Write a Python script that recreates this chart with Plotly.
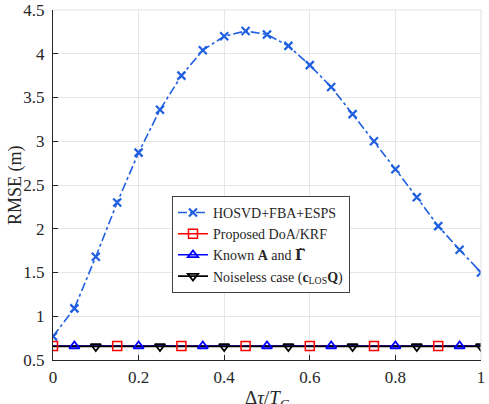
import plotly.graph_objects as go

x = [round(i * 0.05, 2) for i in range(21)]
hosvd = [0.77, 1.09, 1.68, 2.30, 2.87, 3.36, 3.75, 4.04, 4.20, 4.26, 4.22,
         4.09, 3.87, 3.62, 3.31, 3.00, 2.68, 2.36, 2.03, 1.76, 1.50]
proposed = [0.66] * 21
known = [0.66] * 21
noiseless = [0.655] * 21

x_ticks = [0, 0.2, 0.4, 0.6, 0.8, 1]
x_ticklabels = ["0", "0.2", "0.4", "0.6", "0.8", "1"]
y_ticks = [0.5, 1, 1.5, 2, 2.5, 3, 3.5, 4, 4.5]
y_ticklabels = ["0.5", "1", "1.5", "2", "2.5", "3", "3.5", "4", "4.5"]

FONT = "Liberation Serif"

fig = go.Figure()

def mark_subset(vals, start):
    xs = [x[i] for i in range(start, 21, 3)]
    ys = [vals[i] for i in range(start, 21, 3)]
    return xs, ys

fig.add_trace(go.Scatter(x=x, y=hosvd, mode="lines+markers",
                         line=dict(color="#1f5fe0", width=1.6, dash="dashdot"),
                         marker=dict(symbol="x-thin", size=8, line=dict(color="#1f5fe0", width=2.2)),
                         name="HOSVD+FBA+ESPS"))

px_, py_ = mark_subset(proposed, 0)
kx, ky = mark_subset(known, 1)
nx, ny = mark_subset(noiseless, 2)

fig.add_trace(go.Scatter(x=x, y=proposed, mode="lines", line=dict(color="red", width=1.5),
                         showlegend=False, hoverinfo="skip"))
fig.add_trace(go.Scatter(x=x, y=known, mode="lines", line=dict(color="blue", width=1.5),
                         showlegend=False, hoverinfo="skip"))
fig.add_trace(go.Scatter(x=x, y=noiseless, mode="lines", line=dict(color="black", width=1.8),
                         showlegend=False, hoverinfo="skip"))

fig.add_trace(go.Scatter(x=px_, y=py_, mode="markers",
                         marker=dict(symbol="square-open", size=9, color="red", line=dict(width=1.5)),
                         showlegend=False))
fig.add_trace(go.Scatter(x=kx, y=ky, mode="markers",
                         marker=dict(symbol="triangle-up-open", size=9, color="blue", line=dict(width=1.8)),
                         showlegend=False))
fig.add_trace(go.Scatter(x=nx, y=ny, mode="markers",
                         marker=dict(symbol="triangle-down-open", size=9, color="black", line=dict(width=1.8)),
                         showlegend=False))

fig.add_trace(go.Scatter(x=[None], y=[None], mode="lines+markers",
                         line=dict(color="red", width=1.5),
                         marker=dict(symbol="square-open", size=9, color="red", line=dict(width=1.5)),
                         name="Proposed DoA/KRF"))
fig.add_trace(go.Scatter(x=[None], y=[None], mode="lines+markers",
                         line=dict(color="blue", width=1.5),
                         marker=dict(symbol="triangle-up-open", size=9, color="blue", line=dict(width=1.8)),
                         name="Known <b>A</b> and <span style='font-family:DejaVu Serif'><b>Γ̃</b></span>"))
fig.add_trace(go.Scatter(x=[None], y=[None], mode="lines+markers",
                         line=dict(color="black", width=1.8),
                         marker=dict(symbol="triangle-down-open", size=9, color="black", line=dict(width=1.8)),
                         name="Noiseless case (<b>c</b><sub>LOS</sub><b>Q</b>)"))

fig.update_layout(
    width=489, height=404,
    margin=dict(l=53, r=8, t=10, b=44),
    paper_bgcolor="white", plot_bgcolor="white",
    font=dict(family=FONT, size=17, color="#262626"),
    legend=dict(x=0.278, y=0.469, xanchor="left", yanchor="top",
                bgcolor="white", bordercolor="#404040", borderwidth=1,
                font=dict(family=FONT, size=14, color="#262626"),
                tracegroupgap=0, itemwidth=30),
    xaxis=dict(range=[0, 1], tickvals=x_ticks, ticktext=x_ticklabels,
               showgrid=True, gridcolor="#e6e6e6", gridwidth=1,
               showline=True, linecolor="#262626", linewidth=1,
               ticks="inside", ticklen=5, tickcolor="#262626",
               ticklabelstandoff=2, automargin=False,
               zeroline=False),
    yaxis=dict(range=[0.5, 4.5], tickvals=y_ticks, ticktext=y_ticklabels,
               showgrid=True, gridcolor="#e6e6e6", gridwidth=1,
               showline=True, linecolor="#262626", linewidth=1,
               ticks="inside", ticklen=5, tickcolor="#262626",
               ticklabelstandoff=4, automargin=False,
               zeroline=False),
    annotations=[
        dict(text="Δ<i>τ</i>/<i>T</i><sub><i>C</i></sub>", xref="paper", yref="paper",
             x=0.5, y=0, xanchor="center", yanchor="top", yshift=-25,
             showarrow=False, font=dict(size=19)),
        dict(text="RMSE (m)", xref="paper", yref="paper", textangle=-90,
             x=0, y=0.5, xanchor="center", yanchor="middle", xshift=-38,
             showarrow=False, font=dict(size=18)),
    ],
)

fig.add_shape(type="line", xref="paper", yref="paper", x0=0, x1=1, y0=1, y1=1,
              line=dict(color="#e0e0e0", width=1))
fig.add_shape(type="line", xref="paper", yref="paper", x0=1, x1=1, y0=0, y1=1,
              line=dict(color="#e0e0e0", width=1))

fig.write_html("out.html")
